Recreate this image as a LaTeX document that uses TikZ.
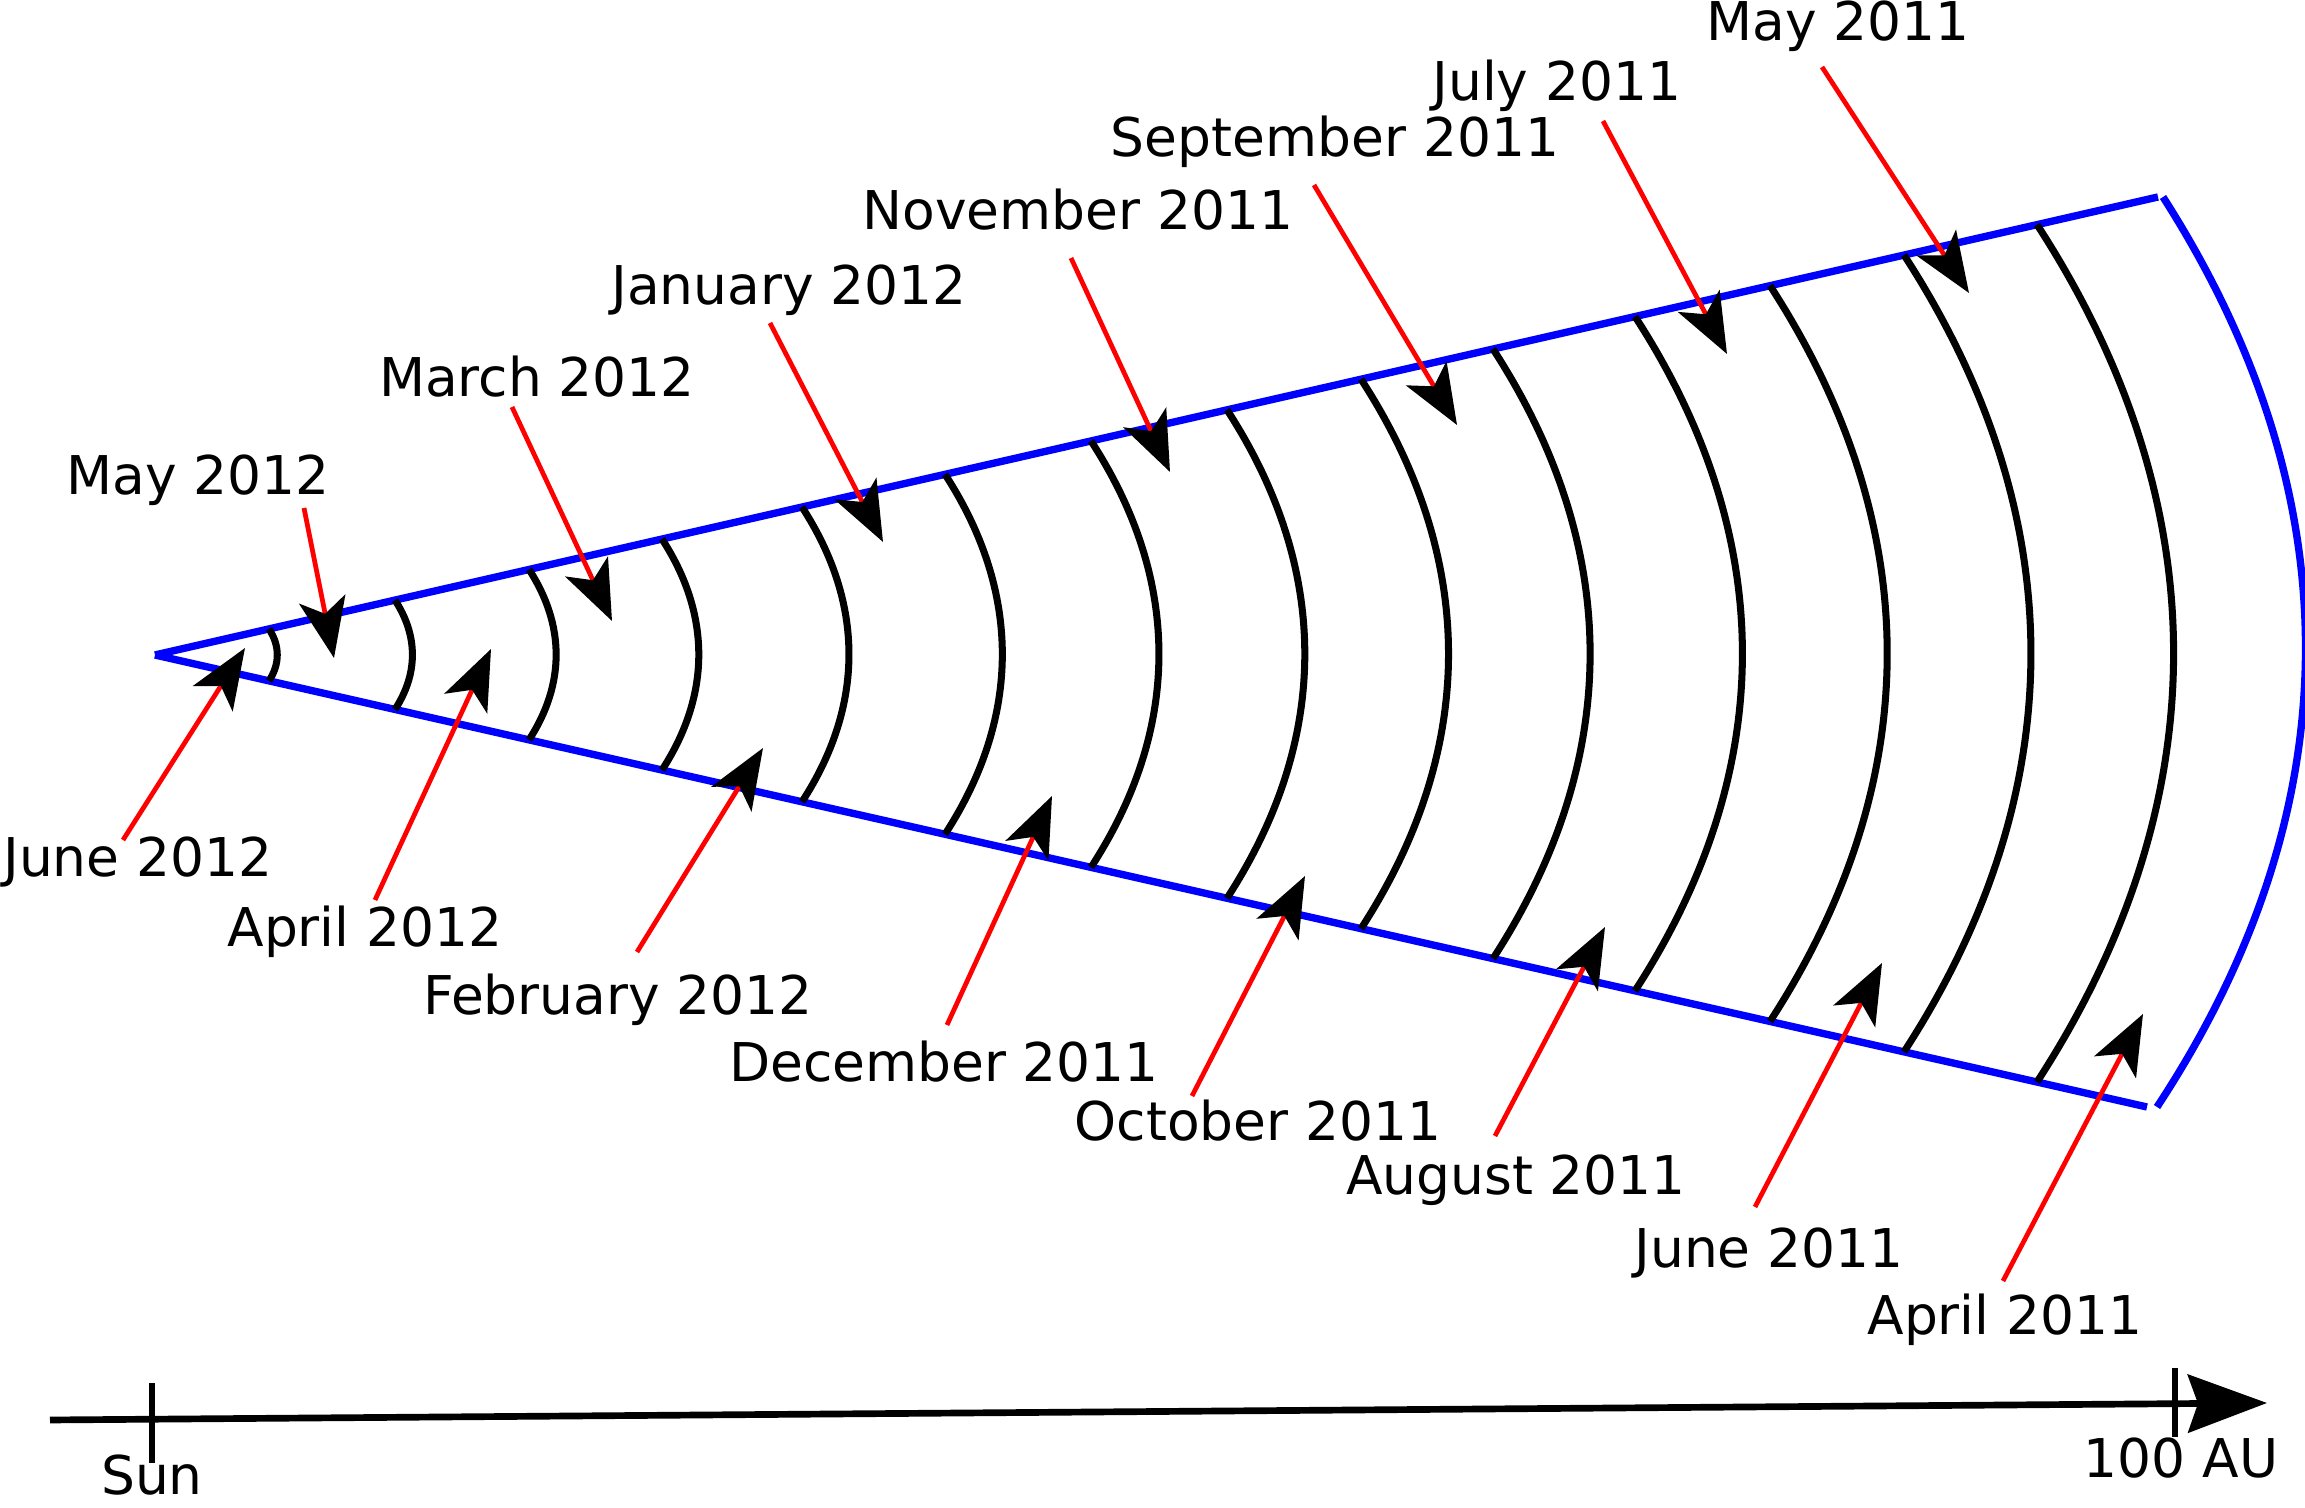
\documentclass[tikz,border=0pt]{standalone}
\usepackage{fontspec}
\setmainfont{DejaVu Sans}
\usepackage{tikz}
\usetikzlibrary{arrows.meta,calc}
\usepackage{xcolor}
\definecolor{wedgeblue}{HTML}{0000FF}
\definecolor{tagred}{HTML}{FF0000}

\begin{document}
\begin{tikzpicture}[y=-1cm,
    datelbl/.style={inner sep=0pt, anchor=base, font=\fontsize{15.2}{18}\selectfont},
    tagline/.style={tagred, line width=1.35pt, -{Stealth[black,length=6mm,width=4.7mm,inset=1.5mm]}},
    front/.style={black, line width=2pt},
    wedge/.style={wedgeblue, line width=2.1pt},
    distaxis/.style={black, line width=1.9pt}]
  \useasboundingbox (0,0) rectangle (23.05,15.08);
  % wedge and outer rim
  \coordinate (apex) at (1.55,6.55);
  \coordinate (upEnd) at (21.58,1.97);
  \coordinate (loEnd) at (21.47,11.07);
  \coordinate (rimTop) at (21.63,1.97);
  \coordinate (rimBot) at (21.57,11.07);
  \draw[wedge] (apex) -- (upEnd);
  \draw[wedge] (apex) -- (loEnd);
  \draw[wedge] (rimTop) to[bend left=33] (rimBot);
  % fronts, one per month
  \foreach \x in {2.69,3.95,5.29,6.62,8.02,9.45,10.91,12.27,13.61,14.93,16.35,17.70,19.04,20.37}
    \draw[front] (\x,{6.55-0.2287*(\x-1.55)}) to[bend left=33] (\x,{6.55+0.2269*(\x-1.55)});
  % dates above the wedge
  \node[datelbl] (may12) at (1.98,4.95) {May 2012};
  \node[datelbl] (mar12) at (5.37,3.97) {March 2012};
  \node[datelbl] (jan12) at (7.89,3.05) {January 2012};
  \node[datelbl] (nov11) at (10.78,2.30) {November 2011};
  \node[datelbl] (sep11) at (13.35,1.57) {September 2011};
  \node[datelbl] (jul11) at (15.57,1.01) {July 2011};
  \node[datelbl] (may11) at (18.38,0.41) {May 2011};
  \coordinate (may12s) at (3.04,5.08);   \coordinate (may12t) at (3.34,6.58);
  \coordinate (mar12s) at (5.12,4.07);   \coordinate (mar12t) at (6.12,6.21);
  \coordinate (jan12s) at (7.70,3.23);   \coordinate (jan12t) at (8.83,5.42);
  \coordinate (nov11s) at (10.71,2.58);  \coordinate (nov11t) at (11.70,4.72);
  \coordinate (sep11s) at (13.14,1.85);  \coordinate (sep11t) at (14.57,4.25);
  \coordinate (jul11s) at (16.03,1.21);  \coordinate (jul11t) at (17.27,3.54);
  \coordinate (may11s) at (18.22,0.67);  \coordinate (may11t) at (19.69,2.93);
  \draw[tagline] (may12s) -- (may12t);
  \draw[tagline] (mar12s) -- (mar12t);
  \draw[tagline] (jan12s) -- (jan12t);
  \draw[tagline] (nov11s) -- (nov11t);
  \draw[tagline] (sep11s) -- (sep11t);
  \draw[tagline] (jul11s) -- (jul11t);
  \draw[tagline] (may11s) -- (may11t);
  % dates below the wedge
  \node[datelbl] (jun12) at (1.38,8.77) {June 2012};
  \node[datelbl] (apr12) at (3.65,9.47) {April 2012};
  \node[datelbl] (feb12) at (6.18,10.15) {February 2012};
  \node[datelbl] (dec11) at (9.44,10.82) {December 2011};
  \node[datelbl] (oct11) at (12.58,11.41) {October 2011};
  \node[datelbl] (aug11) at (15.16,11.95) {August 2011};
  \node[datelbl] (jun11) at (17.69,12.68) {June 2011};
  \node[datelbl] (apr11) at (20.05,13.35) {April 2011};
  \coordinate (jun12s) at (1.23,8.40);   \coordinate (jun12t) at (2.45,6.48);
  \coordinate (apr12s) at (3.75,9.00);   \coordinate (apr12t) at (4.91,6.49);
  \coordinate (feb12s) at (6.37,9.52);   \coordinate (feb12t) at (7.63,7.48);
  \coordinate (dec11s) at (9.47,10.25);  \coordinate (dec11t) at (10.52,7.96);
  \coordinate (oct11s) at (11.92,10.96); \coordinate (oct11t) at (13.05,8.76);
  \coordinate (aug11s) at (14.95,11.36); \coordinate (aug11t) at (16.05,9.27);
  \coordinate (jun11s) at (17.55,12.07); \coordinate (jun11t) at (18.82,9.63);
  \coordinate (apr11s) at (20.03,12.81); \coordinate (apr11t) at (21.43,10.14);
  \draw[tagline] (jun12s) -- (jun12t);
  \draw[tagline] (apr12s) -- (apr12t);
  \draw[tagline] (feb12s) -- (feb12t);
  \draw[tagline] (dec11s) -- (dec11t);
  \draw[tagline] (oct11s) -- (oct11t);
  \draw[tagline] (aug11s) -- (aug11t);
  \draw[tagline] (jun11s) -- (jun11t);
  \draw[tagline] (apr11s) -- (apr11t);
  % distance axis
  \coordinate (axL) at (0.50,14.20);
  \coordinate (axR) at (22.67,14.03);
  \draw[distaxis, -{Stealth[length=7.9mm,width=5.8mm,inset=1mm]}] (axL) -- (axR);
  \draw[distaxis] (1.52,13.83) -- (1.52,14.63);
  \draw[distaxis] (21.75,13.68) -- (21.75,14.37);
  \node[datelbl] (sun) at (1.52,14.95) {Sun};
  \node[datelbl] (au100) at (21.81,14.78) {100 AU};
\end{tikzpicture}
\end{document}
